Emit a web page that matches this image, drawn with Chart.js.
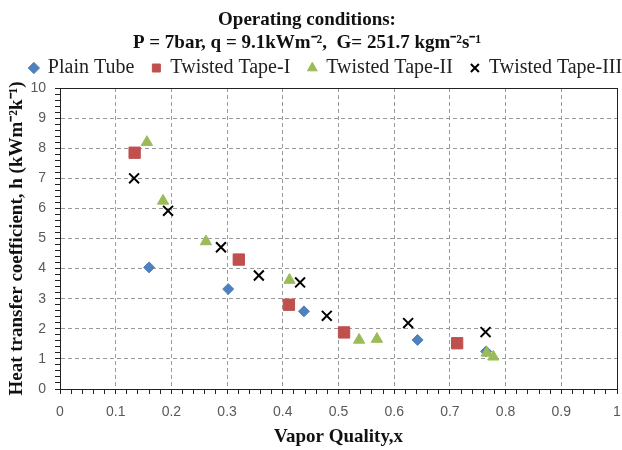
<!DOCTYPE html>
<html>
<head>
<meta charset="utf-8">
<script src="https://cdn.jsdelivr.net/npm/chart.js@4/dist/chart.umd.min.js"></script>
<style>
html,body{margin:0;padding:0;background:#fff;}
#wrap{width:622px;height:450px;}
</style>
</head>
<body>
<div id="wrap"><canvas id="c" width="622" height="450"></canvas></div>
<script>
const titleLines = ["Operating conditions:", "P = 7bar, q = 9.1kWm\u207B\u00B2,  G= 251.7 kgm\u207B\u00B2s\u207B\u00B9"];
const xTitle = "Vapor Quality,x";
const yTitle = "Heat transfer coefficient, h (kWm\u207B\u00B2k\u207B\u00B9)";
const seriesNames = ["Plain Tube", "Twisted Tape-I", "Twisted Tape-II", "Twisted Tape-III"];

const plainX = [0.160, 0.302, 0.438, 0.642, 0.765];
const plainY = [4.04, 3.32, 2.58, 1.63, 1.25];
const tt1X = [0.134, 0.321, 0.411, 0.510, 0.713];
const tt1Y = [7.85, 4.30, 2.80, 1.88, 1.52];
const tt2X = [0.156, 0.185, 0.262, 0.412, 0.537, 0.569, 0.766, 0.778];
const tt2Y = [8.20, 6.25, 4.90, 3.62, 1.63, 1.66, 1.20, 1.07];
const tt3X = [0.133, 0.194, 0.289, 0.357, 0.431, 0.479, 0.625, 0.764];
const tt3Y = [7.00, 5.92, 4.71, 3.77, 3.54, 2.43, 2.19, 1.89];

const xMin = 0, xMax = 1, xMajor = 0.1, xMinor = 0.02;
const yMin = 0, yMax = 10, yMajor = 1, yMinor = 0.2;

function pts(xs, ys){ return xs.map((x,i)=>({x:x, y:ys[i]})); }
function isMajor(v, step){ const r = v/step; return Math.abs(r - Math.round(r)) < 1e-6; }

const framePlugin = {
  id: 'frame',
  afterLayout(chart){
    // keep the title centred on the visible canvas
    if (chart.titleBlock) { chart.titleBlock.left = 0; chart.titleBlock.right = 614; }
  },
  beforeDatasetsDraw(chart){
    const a = chart.chartArea, ctx = chart.ctx;
    ctx.save();
    ctx.strokeStyle = '#222';
    ctx.lineWidth = 1;
    ctx.setLineDash([]);
    ctx.strokeRect(Math.round(a.left)+0.5, Math.round(a.top)+0.5, Math.round(a.right-a.left), Math.round(a.bottom-a.top));
    ctx.restore();
  }
};

const serif = "'Liberation Serif', 'Times New Roman', serif";
const sans = "'Liberation Sans', Arial, sans-serif";

new Chart(document.getElementById('c'), {
  type: 'scatter',
  data: {
    datasets: [
      {label: seriesNames[0], data: pts(plainX, plainY), pointStyle: 'rectRot', pointRadius: 5.5, pointHoverRadius: 5.5,
       backgroundColor: '#4F81BD', borderColor: '#4F81BD', borderWidth: 1, order: 4},
      {label: seriesNames[1], data: pts(tt1X, tt1Y), pointStyle: 'rect', pointRadius: 8, pointHoverRadius: 8,
       backgroundColor: '#C0504D', borderColor: '#C0504D', borderWidth: 1, order: 3},
      {label: seriesNames[2], data: pts(tt2X, tt2Y), pointStyle: 'triangle', pointRadius: 6.5, pointHoverRadius: 6.5,
       backgroundColor: '#9BBB59', borderColor: '#9BBB59', borderWidth: 1, order: 2},
      {label: seriesNames[3], data: pts(tt3X, tt3Y), pointStyle: 'crossRot', pointRadius: 7, pointHoverRadius: 7,
       backgroundColor: '#000', borderColor: '#000', borderWidth: 2, order: 1}
    ]
  },
  options: {
    responsive: false,
    animation: false,
    devicePixelRatio: 1,
    layout: {autoPadding: false, padding: {left: 0, right: -30, top: 0, bottom: 0}},
    plugins: {
      tooltip: {enabled: false},
      title: {
        display: true,
        text: titleLines,
        color: '#111',
        font: {family: serif, size: 19, weight: 'bold', lineHeight: 1.2},
        padding: {top: 9, bottom: -14.6}
      },
      legend: {
        display: true,
        position: 'top',
        labels: {
          usePointStyle: true,
          boxWidth: 8,
          boxHeight: 8,
          padding: 18,
          color: '#222',
          font: {family: serif, size: 20},
          sort: (a, b) => a.datasetIndex - b.datasetIndex
        }
      }
    },
    scales: {
      x: {
        type: 'linear',
        min: xMin, max: xMax,
        afterFit: s => { s.height = 61; s.paddingRight = 5; },
        ticks: {
          stepSize: xMinor, autoSkip: false, maxRotation: 0,
          color: '#595959', padding: 10,
          font: {family: sans, size: 14},
          callback: v => isMajor(v, xMajor) ? String(Math.round(v*10)/10) : ''
        },
        grid: {
          color: c => (c.tick && isMajor(c.tick.value, xMajor)) ? '#9a9a9a' : 'rgba(0,0,0,0)',
          tickColor: '#222', tickLength: 5, lineWidth: 1, drawTicks: true
        },
        border: {display: true, color: '#222', width: 1, dash: [4, 3]},
        title: {
          display: true, text: xTitle, color: '#111',
          font: {family: serif, size: 19, weight: 'bold'},
          padding: {top: 4, bottom: 2}
        }
      },
      y: {
        type: 'linear',
        min: yMin, max: yMax,
        afterFit: s => { s.width = 60; },
        ticks: {
          stepSize: yMinor, autoSkip: false,
          color: '#595959', padding: 9,
          font: {family: sans, size: 14},
          callback: v => isMajor(v, yMajor) ? String(Math.round(v)) : ''
        },
        grid: {
          color: c => (c.tick && isMajor(c.tick.value, yMajor)) ? '#9a9a9a' : 'rgba(0,0,0,0)',
          tickColor: '#222', tickLength: 5, lineWidth: 1, drawTicks: true
        },
        border: {display: true, color: '#222', width: 1, dash: [4, 3]},
        title: {
          display: true, text: yTitle, color: '#111',
          font: {family: serif, size: 19, weight: 'bold'},
          padding: {top: 6, bottom: 4}
        }
      }
    }
  },
  plugins: [framePlugin]
});
</script>
</body>
</html>
